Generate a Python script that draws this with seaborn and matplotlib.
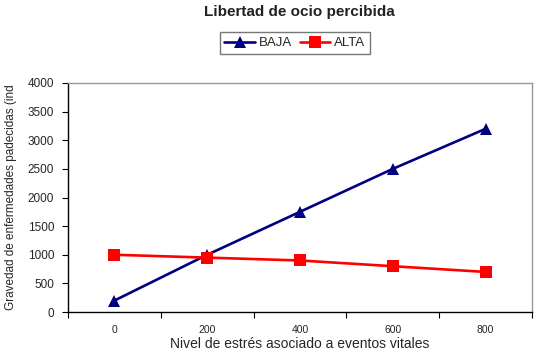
import matplotlib
matplotlib.use("Agg")
import matplotlib.pyplot as plt
import seaborn as sns
import pandas as pd
import numpy as np
from matplotlib.ticker import FixedLocator

categories = ["0", "200", "400", "600", "800"]
baja = [200, 1000, 1750, 2500, 3200]
alta = [1000, 950, 900, 800, 700]
series_names = ["BAJA", "ALTA"]
yticks = [0, 500, 1000, 1500, 2000, 2500, 3000, 3500, 4000]

df = pd.DataFrame({
    "x": categories * 2,
    "y": baja + alta,
    "serie": [series_names[0]] * 5 + [series_names[1]] * 5,
})

sns.set_style("white")
plt.rcParams["font.family"] = ["Liberation Sans", "DejaVu Sans"]

fig = plt.figure(figsize=(5.38, 3.53), dpi=100)
ax = fig.add_axes([0.1264, 0.1161, 0.8624, 0.6488])

sns.lineplot(data=df, x="x", y="y", hue="serie", style="serie",
             palette={"BAJA": "#000080", "ALTA": "#FF0000"},
             markers={"BAJA": "^", "ALTA": "s"}, dashes=False,
             markersize=8.5, linewidth=1.9, markeredgewidth=0, ax=ax, sort=False)

ax.set_xlim(-0.5, 4.5)
ax.set_ylim(0, 4000)
ax.set_yticks(yticks)
ax.set_yticklabels([str(v) for v in yticks], fontsize=8.5)
ax.set_xticks(range(len(categories)))
ax.set_xticklabels(categories, fontsize=7.5)
ax.xaxis.set_minor_locator(FixedLocator(np.arange(-0.5, 5.0, 1.0)))
ax.tick_params(axis="x", which="major", length=0, pad=9)
ax.tick_params(axis="x", which="minor", length=4, width=0.8, color="black", direction="out", bottom=True)
ax.tick_params(axis="y", which="major", length=4, width=0.8, color="black", direction="out", left=True, pad=6)

for s in ["left", "bottom"]:
    ax.spines[s].set_color("black")
    ax.spines[s].set_linewidth(1)
for s in ["top", "right"]:
    ax.spines[s].set_color("#999999")
    ax.spines[s].set_linewidth(1)

ax.set_xlabel("Nivel de estrés asociado a eventos vitales", fontsize=10, labelpad=2)
ax.set_ylabel("Gravedad de enfermedades padecidas (ind", fontsize=8.5, labelpad=8)

fig.suptitle("Libertad de ocio percibida", x=0.556, y=0.985, fontsize=11, fontweight="bold", color="#222222")

leg = ax.legend(loc="center", ncol=2, frameon=True, fontsize=9.5, handlelength=2.3,
                handletextpad=0.3, columnspacing=0.6, borderpad=0.35, fancybox=False)
leg.get_frame().set_edgecolor("#555555")
leg.get_frame().set_linewidth(1)
leg.set_bbox_to_anchor((0.548, 0.878), transform=fig.transFigure)

fig.savefig("out.png", dpi=100)
